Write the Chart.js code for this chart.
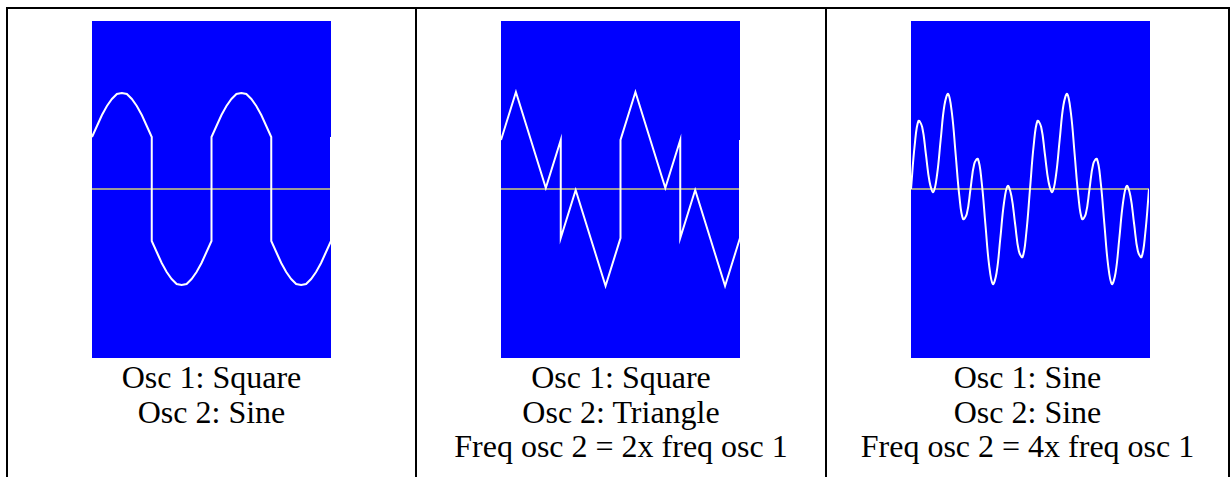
<!DOCTYPE html>
<html>
<head>
<meta charset="utf-8">
<script src="https://cdn.jsdelivr.net/npm/chart.js"></script>
<style>
  body { margin: 0; background: #ffffff; width: 1231px; height: 477px; overflow: hidden; position: relative; }
  .rule { position: absolute; background: #000000; }
  .scope { position: absolute; top: 21px; width: 239px; height: 337px; background: #0000ff; }
  .caption {
    position: absolute; top: 360px; text-align: center;
    font-family: "Liberation Serif", "Times New Roman", serif;
    font-size: 32px; line-height: 34.5px; color: #000000;
  }
</style>
</head>
<body>

<!-- table grid -->
<div class="rule" style="left:6px; top:7px; width:1224px; height:2px;"></div>
<div class="rule" style="left:6px; top:7px; width:2px; height:470px;"></div>
<div class="rule" style="left:415px; top:7px; width:2px; height:470px;"></div>
<div class="rule" style="left:825px; top:7px; width:2px; height:470px;"></div>
<div class="rule" style="left:1228px; top:7px; width:2px; height:470px;"></div>

<div class="scope" style="left:92px;"><canvas id="scopeSquareSine" width="239" height="337"></canvas></div>
<div class="scope" style="left:501px;"><canvas id="scopeSquareTriangle" width="239" height="337"></canvas></div>
<div class="scope" style="left:911px;"><canvas id="scopeSineSine" width="238" height="337"></canvas></div>

<div class="caption" style="left:8px; width:407px;">Osc 1: Square<br>Osc 2: Sine</div>
<div class="caption" style="left:417px; width:408px;">Osc 1: Square<br>Osc 2: Triangle<br>Freq osc 2 = 2x freq osc 1</div>
<div class="caption" style="left:827px; width:401px;">Osc 1: Sine<br>Osc 2: Sine<br>Freq osc 2 = 4x freq osc 1</div>

<script>
// phase of osc 1 in degrees (two full cycles across each scope), level in screen units
const sqSinePhase = [0, 15, 30, 45, 60, 75, 90, 105, 120, 135, 150, 165, 180,
  180, 195, 210, 225, 240, 255, 270, 285, 300, 315, 330, 345, 360,
  360, 375, 390, 405, 420, 435, 450, 465, 480, 495, 510, 525, 540,
  540, 555, 570, 585, 600, 615, 630, 645, 660, 675, 690, 705, 720,
  720];
const sqSineLevel = [52, 63, 74, 83, 90, 95, 96, 95, 90, 83, 74, 63, 52,
  -52, -63, -74, -83, -90, -95, -96, -95, -90, -83, -74, -63, -52,
  52, 63, 74, 83, 90, 95, 96, 95, 90, 83, 74, 63, 52,
  -52, -63, -74, -83, -90, -95, -96, -95, -90, -83, -74, -63, -52,
  52];

const sqTriPhase = [0, 45, 135, 180, 180, 225, 315, 360, 360, 405, 495, 540, 540, 585, 675, 720, 720];
const sqTriLevel = [49, 97, 1, 49, -49, -1, -97, -49, 49, 97, 1, 49, -49, -1, -97, -49, 49];

const sineSinePhase = [0, 11.25, 22.5, 33.75, 45, 56.25, 67.5, 78.75, 90, 101.25, 112.5, 123.75,
  135, 146.25, 157.5, 168.75, 180, 191.25, 202.5, 213.75, 225, 236.25, 247.5, 258.75,
  270, 281.25, 292.5, 303.75, 315, 326.25, 337.5, 348.75, 360,
  371.25, 382.5, 393.75, 405, 416.25, 427.5, 438.75, 450, 461.25, 472.5, 483.75,
  495, 506.25, 517.5, 528.75, 540, 551.25, 562.5, 573.75, 585, 596.25, 607.5, 618.75,
  630, 641.25, 652.5, 663.75, 675, 686.25, 697.5, 708.75, 720];
const sineSineLevel = [0, 44, 68, 62, 35, 7, -3, 14, 50, 84, 95, 76,
  35, -7, -30, -25, 0, 25, 30, 7, -35, -76, -95, -84,
  -50, -14, 3, -7, -35, -62, -68, -44, 0,
  44, 68, 62, 35, 7, -3, 14, 50, 84, 95, 76,
  35, -7, -30, -25, 0, 25, 30, 7, -35, -76, -95, -84,
  -50, -14, 3, -7, -35, -62, -68, -44, 0];

const axisPhase = [0, 720];
const axisLevel = [0, 0];

function toPoints(xs, ys) {
  return xs.map((x, i) => ({ x: x, y: ys[i] }));
}

function drawScope(id, phase, level, tension) {
  const ctx = document.getElementById(id).getContext("2d");
  new Chart(ctx, {
    type: "line",
    data: {
      datasets: [{
        data: toPoints(phase, level),
        borderColor: "#ffffff",
        borderWidth: 2,
        pointRadius: 0,
        tension: tension
      }, {
        data: toPoints(axisPhase, axisLevel),
        borderColor: "#9a9a9a",
        borderWidth: 2,
        pointRadius: 0
      }]
    },
    options: {
      responsive: false,
      animation: false,
      devicePixelRatio: 1,
      layout: { padding: 0 },
      scales: {
        x: { type: "linear", display: false, min: 0, max: 720 },
        y: { display: false, min: -169, max: 168 }
      },
      plugins: {
        legend: { display: false },
        tooltip: { enabled: false }
      }
    }
  });
}

drawScope("scopeSquareSine", sqSinePhase, sqSineLevel, 0);
drawScope("scopeSquareTriangle", sqTriPhase, sqTriLevel, 0);
drawScope("scopeSineSine", sineSinePhase, sineSineLevel, 0.4);
</script>
</body>
</html>
